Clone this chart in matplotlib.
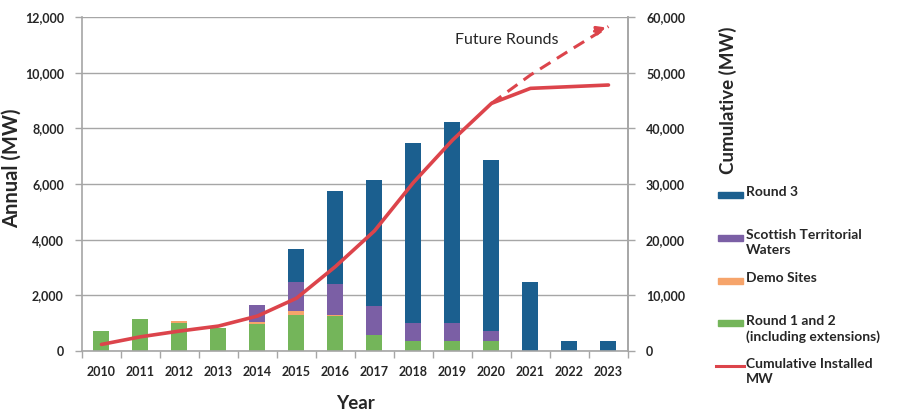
import numpy as np
import matplotlib.pyplot as plt
from matplotlib.patches import Rectangle
from matplotlib.lines import Line2D
from matplotlib.ticker import FuncFormatter, FixedLocator

plt.rcParams['font.family'] = ['Lato', 'DejaVu Sans']

# Données annuelles (MW) par catégorie
years = ['2010', '2011', '2012', '2013', '2014', '2015', '2016',
         '2017', '2018', '2019', '2020', '2021', '2022', '2023']
round12 = [720, 1140, 1010, 840, 960, 1315, 1265, 590, 380, 380, 380, 0, 0, 0]
demo = [0, 0, 80, 0, 100, 110, 40, 0, 0, 0, 0, 0, 0, 0]
scottish = [0, 0, 0, 0, 590, 1060, 1120, 1040, 620, 620, 330, 0, 0, 0]
round3 = [0, 0, 0, 0, 0, 1170, 3330, 4500, 6470, 7220, 6170, 2500, 380, 380]

# Cumul installé (MW) et scénario "Future Rounds"
cumulative = [1200, 2570, 3600, 4500, 6300, 9500, 15200, 21600, 30300, 37900,
              44500, 47200, 47500, 47800]
future_years = ['2020', '2021', '2022', '2023']
future = [44500, 49600, 54000, 58300]

c_r3 = '#1b5f8f'
c_sc = '#7b5fa5'
c_demo = '#f6a46b'
c_r12 = '#74b55a'
c_line = '#dc444b'
grid_c = '#a6a6a6'
txt_c = '#262626'

fig = plt.figure(figsize=(8.98, 4.17), dpi=100)
ax = fig.add_axes([0.0913, 0.158, 0.608, 0.801])

x = np.arange(len(years))
w = 0.41
b1 = np.array(round12)
b2 = b1 + np.array(demo)
b3 = b2 + np.array(scottish)
ax.bar(x, round12, w, color=c_r12, zorder=2)
ax.bar(x, demo, w, bottom=b1, color=c_demo, zorder=2)
ax.bar(x, scottish, w, bottom=b2, color=c_sc, zorder=2)
ax.bar(x, round3, w, bottom=b3, color=c_r3, zorder=2)

ax.set_xlim(-0.5, len(years) - 0.5)
ax.set_ylim(0, 12000)
ax.set_yticks(np.arange(0, 12001, 2000))
ax.yaxis.set_major_formatter(FuncFormatter(lambda v, p: f'{int(v):,}'))
ax.grid(axis='y', color=grid_c, lw=1, zorder=0)
ax.set_xticks(x)
ax.set_xticklabels(years)
ax.xaxis.set_minor_locator(FixedLocator(np.arange(-0.5, len(years), 1)))
ax.tick_params(axis='x', which='major', length=0, pad=11, labelsize=9, labelcolor=txt_c)
ax.tick_params(axis='x', which='minor', length=5, color=grid_c, width=1)
ax.tick_params(axis='y', length=5, color=grid_c, width=1, pad=8, labelsize=9, labelcolor=txt_c)
for lab in ax.get_xticklabels() + ax.get_yticklabels():
    lab.set_fontweight('bold')
ax.spines['top'].set_visible(False)
for s in ['left', 'bottom', 'right']:
    ax.spines[s].set_color(grid_c)
    ax.spines[s].set_linewidth(1.2)
ax.set_xlabel('Year', fontsize=13.5, fontweight='bold', color=txt_c, labelpad=12)
ax.set_ylabel('Annual (MW)', fontsize=14.5, fontweight='bold', color=txt_c)
ax.yaxis.set_label_coords(-0.11, 0.548)

# Axe secondaire pour le cumul
ax2 = ax.twinx()
ax2.set_ylim(0, 60000)
ax2.set_yticks(np.arange(0, 60001, 10000))
ax2.yaxis.set_major_formatter(FuncFormatter(lambda v, p: f'{int(v):,}'))
ax2.tick_params(axis='y', length=5, color=grid_c, width=1, pad=8, labelsize=9, labelcolor=txt_c)
for lab in ax2.get_yticklabels():
    lab.set_fontweight('bold')
for s in ['top', 'left', 'bottom']:
    ax2.spines[s].set_visible(False)
ax2.spines['right'].set_color(grid_c)
ax2.spines['right'].set_linewidth(1.2)

fx = [years.index(y) for y in future_years]
ax2.plot(fx, future, color=c_line, lw=2.2, ls=(0, (4, 2.5)), zorder=3)
ax2.annotate('', xy=(fx[-1], future[-1]), xytext=(-12, -4), textcoords='offset points',
             arrowprops=dict(arrowstyle='-|>,head_length=0.5,head_width=0.25',
                             color=c_line, lw=2.2))
ax2.plot(x, cumulative, color=c_line, lw=2.6, zorder=4, solid_capstyle='round')
ax2.text(10.4, 55800, 'Future Rounds', ha='center', va='center', fontsize=11.5, color=txt_c)

fig.text(0.811, 0.76, 'Cumulative (MW)', rotation=90, ha='center', va='center',
         fontsize=13.5, fontweight='bold', color=txt_c)

# Légende
entries = [
    ('patch', c_r3, 'Round 3'),
    ('patch', c_sc, 'Scottish Territorial\nWaters'),
    ('patch', c_demo, 'Demo Sites'),
    ('patch', c_r12, 'Round 1 and 2\n(including extensions)'),
    ('line', c_line, 'Cumulative Installed\nMW'),
]
top_px = 195
step = 42.8
H, W = 417.0, 898.0
for i, (kind, col, lab) in enumerate(entries):
    yc = 1 - (top_px + i * step) / H
    if kind == 'patch':
        fig.patches.append(Rectangle((718 / W, yc - 3 / H), 25 / W, 6 / H,
                                     color=col, transform=fig.transFigure, figure=fig))
    else:
        fig.lines.append(Line2D([716 / W, 744 / W], [yc, yc], color=col, lw=2.2,
                                transform=fig.transFigure, figure=fig))
    fig.text(746 / W, yc + 8.5 / H, lab, ha='left', va='top', fontsize=10,
             fontweight='bold', color=txt_c, linespacing=1.3)

fig.savefig('out.png', dpi=100)
